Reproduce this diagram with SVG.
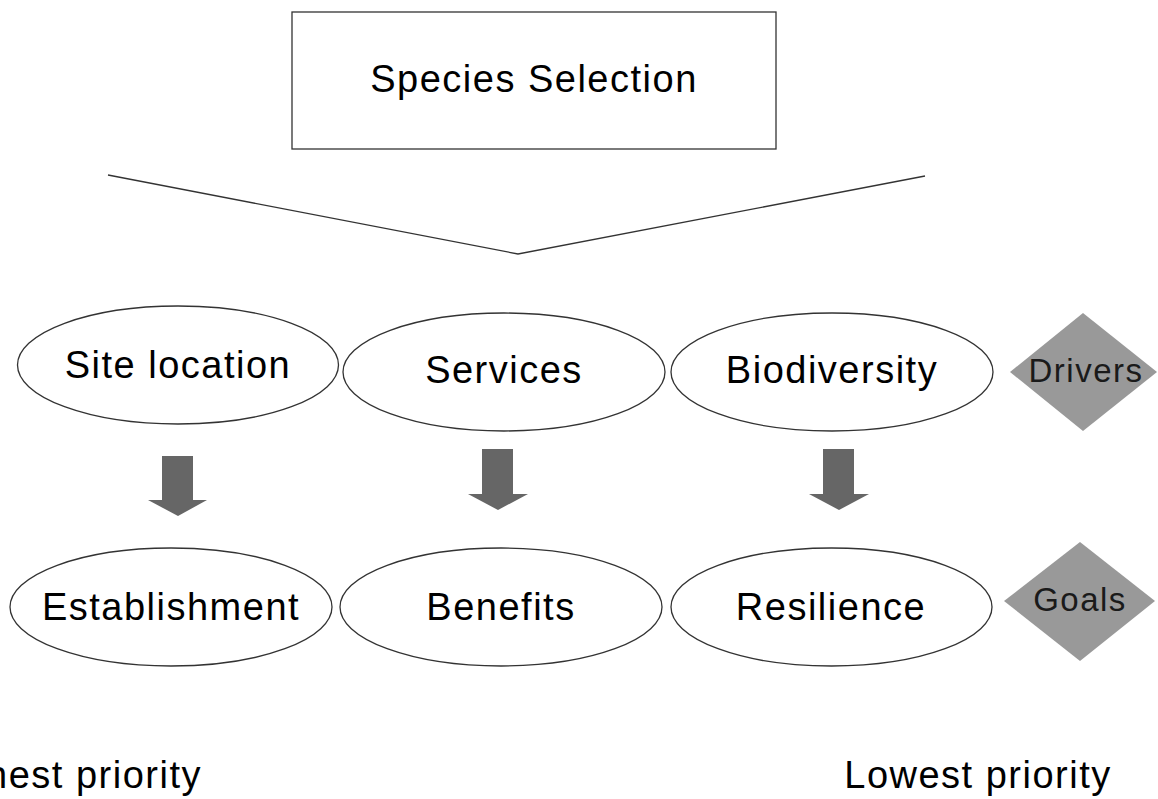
<svg xmlns="http://www.w3.org/2000/svg" width="1158" height="799" viewBox="0 0 1158 799">
<style>
text{font-family:"Liberation Sans",Arial,sans-serif;font-size:38px;letter-spacing:1.5px;fill:#000;text-anchor:middle}
.node{fill:#fff;stroke:#333;stroke-width:1.3}
.dia{fill:#999}
.dt{font-size:33px;fill:#1a1a1a}
.arr{fill:#666}
.line{fill:none;stroke:#333;stroke-width:1.3}
</style>
<rect width="1158" height="799" fill="#fff"/>
<g id="species-selection"><rect class="node" x="292" y="12" width="484" height="137"/><text x="534" y="92">Species Selection</text></g>
<g id="connectors">
<polyline class="line" points="108,175 518,254 925,176"/>
<polygon class="arr" points="162,456 193,456 193,500 207,500 178,516 148,500 162,500"/>
<polygon class="arr" points="482,449 513,449 513,494 528,494 498,510 468,494 482,494"/>
<polygon class="arr" points="823,449 854,449 854,494 869,494 839,510 809,494 823,494"/>
</g>
<g id="site-location"><ellipse class="node" cx="178" cy="365" rx="160.5" ry="59"/><text x="178" y="378">Site location</text></g>
<g id="services"><ellipse class="node" cx="504" cy="372" rx="161" ry="59"/><text x="504" y="383">Services</text></g>
<g id="biodiversity"><ellipse class="node" cx="832" cy="372" rx="161" ry="59"/><text x="832" y="383">Biodiversity</text></g>
<g id="drivers"><polygon class="dia" points="1083,313 1157,372 1083,431 1010,372"/><text class="dt" x="1086" y="382">Drivers</text></g>
<g id="establishment"><ellipse class="node" cx="171" cy="607" rx="161" ry="59"/><text x="171" y="620">Establishment</text></g>
<g id="benefits"><ellipse class="node" cx="501" cy="607" rx="161" ry="59"/><text x="501" y="620">Benefits</text></g>
<g id="resilience"><ellipse class="node" cx="831.5" cy="607" rx="160.5" ry="59"/><text x="831" y="620">Resilience</text></g>
<g id="goals"><polygon class="dia" points="1080,542 1155,601 1080,661 1004,601"/><text class="dt" x="1080" y="611">Goals</text></g>
<g id="highest-priority"><text x="202" y="788" style="text-anchor:end">hest priority</text></g>
<g id="lowest-priority"><text x="978" y="788">Lowest priority</text></g>
</svg>
